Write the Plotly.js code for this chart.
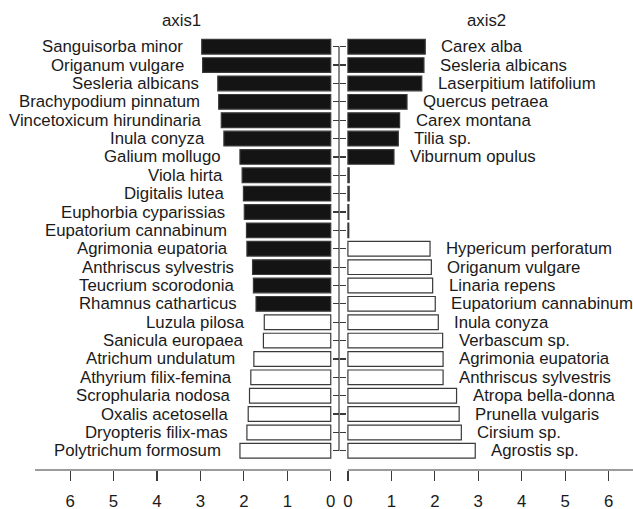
<!DOCTYPE html>
<html>
<head>
<meta charset="utf-8">
<script src="https://cdn.plot.ly/plotly-3.0.1.min.js"></script>
<style>html,body{margin:0;padding:0;background:#fff;}#chart{width:633px;height:509px;}</style>
</head>
<body>
<div id="chart"></div>
<script>
// ---- data ----
var axis1Names = ["Sanguisorba minor","Origanum vulgare","Sesleria albicans","Brachypodium pinnatum",
  "Vincetoxicum hirundinaria","Inula conyza","Galium mollugo","Viola hirta","Digitalis lutea",
  "Euphorbia cyparissias","Eupatorium cannabinum","Agrimonia eupatoria","Anthriscus sylvestris",
  "Teucrium scorodonia","Rhamnus catharticus","Luzula pilosa","Sanicula europaea","Atrichum undulatum",
  "Athyrium filix-femina","Scrophularia nodosa","Oxalis acetosella","Dryopteris filix-mas","Polytrichum formosum"];
var axis1Values = [2.97,2.95,2.60,2.58,2.52,2.46,2.09,2.04,2.01,1.99,1.94,1.93,1.80,1.78,1.72,
  1.53,1.55,1.77,1.84,1.87,1.90,1.93,2.09];
var axis1Group = ["b","b","b","b","b","b","b","b","b","b","b","b","b","b","b",
  "w","w","w","w","w","w","w","w"];

var axis2Names = ["Carex alba","Sesleria albicans","Laserpitium latifolium","Quercus petraea","Carex montana",
  "Tilia sp.","Viburnum opulus","","","","","Hypericum perforatum","Origanum vulgare","Linaria repens",
  "Eupatorium cannabinum","Inula conyza","Verbascum sp.","Agrimonia eupatoria","Anthriscus sylvestris",
  "Atropa bella-donna","Prunella vulgaris","Cirsium sp.","Agrostis sp."];
var axis2Values = [1.78,1.75,1.70,1.36,1.19,1.16,1.06,0.03,0.03,0.02,0.02,1.89,1.92,1.95,2.01,2.08,2.18,
  2.19,2.19,2.50,2.56,2.61,2.93];
var axis2Group = ["b","b","b","b","b","b","b","b","b","b","b",
  "w","w","w","w","w","w","w","w","w","w","w","w"];

var tickVals = [0,1,2,3,4,5,6];
var tickText = ["0","1","2","3","4","5","6"];
var panelTitles = ["axis1","axis2"];

// ---- styling ----
var FONT = "Liberation Sans, Arial, Helvetica, sans-serif";
var TXT = "#1a1a1a";
var LINE = "#3a3a3a";
var fillOf = {b:"#141414", w:"#ffffff"};

function rows(n){ var r=[]; for(var i=0;i<n;i++) r.push(i+1); return r; }
var rows1 = rows(axis1Values.length);
var rows2 = rows(axis2Values.length);

var traces = [
  {type:"bar", orientation:"h", x:axis1Values, y:rows1, xaxis:"x", yaxis:"y", width:0.8,
   marker:{color:axis1Group.map(function(g){return fillOf[g];}), line:{color:LINE,width:1.2}},
   hoverinfo:"skip", showlegend:false},
  {type:"bar", orientation:"h", x:axis2Values, y:rows2, xaxis:"x2", yaxis:"y2", width:0.8,
   marker:{color:axis2Group.map(function(g){return fillOf[g];}), line:{color:LINE,width:1.2}},
   hoverinfo:"skip", showlegend:false}
];

var annotations = [];
axis1Names.forEach(function(n,i){
  if(!n) return;
  annotations.push({xref:"x", yref:"y", x:axis1Values[i], y:rows1[i], text:n, showarrow:false,
    xanchor:"right", yanchor:"middle", xshift:-17, font:{family:FONT,size:16.8,color:TXT}});
});
axis2Names.forEach(function(n,i){
  if(!n) return;
  annotations.push({xref:"x2", yref:"y2", x:axis2Values[i], y:rows2[i], text:n, showarrow:false,
    xanchor:"left", yanchor:"middle", xshift:14, font:{family:FONT,size:16.8,color:TXT}});
});
annotations.push({xref:"paper", yref:"paper", x:181.5/633, y:1-20.5/509, text:panelTitles[0], showarrow:false,
  xanchor:"center", yanchor:"middle", font:{family:FONT,size:16.8,color:TXT}});
annotations.push({xref:"paper", yref:"paper", x:486.7/633, y:1-20.5/509, text:panelTitles[1], showarrow:false,
  xanchor:"center", yanchor:"middle", font:{family:FONT,size:16.8,color:TXT}});

var W=633, H=509;
var yDom = [1-470/H, 1-35.7/H];
var yRange = [24.045, 0.4];
var vx = 339/W;
var x1Range = [6.808, -0.19];
var x2Range = [-0.205, 6.56];

var shapes = [
  // left x axis line (0 .. range end)
  {type:"line", xref:"x", yref:"paper", x0:0, x1:x1Range[0], y0:yDom[0], y1:yDom[0], line:{color:LINE,width:1.2}},
  // right x axis line
  {type:"line", xref:"x2", yref:"paper", x0:0, x1:x2Range[1], y0:yDom[0], y1:yDom[0], line:{color:LINE,width:1.2}},
  // shared vertical category axis line, first row to last row
  {type:"line", xref:"paper", yref:"y", x0:vx, x1:vx, y0:rows1[0], y1:rows1[rows1.length-1], line:{color:LINE,width:1.2}}
];

var xCommon = {tickmode:"array", tickvals:tickVals, ticktext:tickText, ticks:"outside", ticklen:10,
  tickwidth:1.2, tickcolor:LINE, showline:false, showgrid:false, zeroline:false,
  tickfont:{family:FONT,size:16.8,color:TXT}, ticklabelstandoff:6, fixedrange:true};
var yCommon = {range:yRange, domain:yDom, tickmode:"array", tickvals:rows1, ticks:"outside", ticklen:6,
  tickwidth:1.2, tickcolor:LINE, showticklabels:false, showline:false, showgrid:false, zeroline:false,
  anchor:"free", position:vx, fixedrange:true};

var layout = {
  width:W, height:H, margin:{l:0,r:0,t:0,b:0}, paper_bgcolor:"#fff", plot_bgcolor:"rgba(0,0,0,0)",
  showlegend:false, bargap:0.2,
  xaxis:Object.assign({}, xCommon, {domain:[35/W, vx], range:x1Range, anchor:"y"}),
  xaxis2:Object.assign({}, xCommon, {domain:[vx, 1], range:x2Range, anchor:"y2"}),
  yaxis:Object.assign({}, yCommon, {side:"right"}),
  yaxis2:Object.assign({}, yCommon, {side:"left", tickvals:rows2}),
  annotations:annotations, shapes:shapes
};

Plotly.newPlot("chart", traces, layout, {staticPlot:true, displayModeBar:false});
</script>
</body>
</html>
